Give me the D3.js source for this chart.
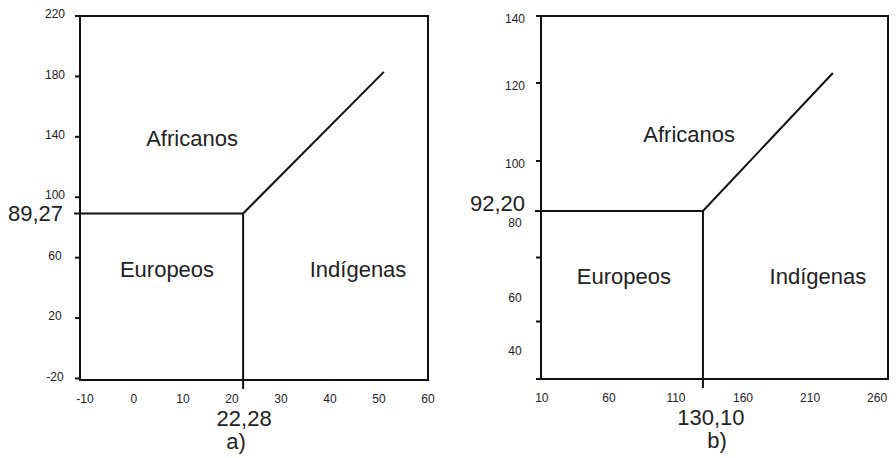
<!DOCTYPE html>
<html>
<head>
<meta charset="utf-8">
<script src="https://cdn.jsdelivr.net/npm/d3@7"></script>
<style>
  html, body { margin: 0; padding: 0; background: #fff; }
  svg { display: block; font-family: "Liberation Sans", Arial, sans-serif; }
</style>
</head>
<body>
<svg id="chart" width="896" height="458"></svg>
<script>
// ---------- data ----------
const regionNames = ["Africanos", "Europeos", "Indígenas"];

// panel a
const aXTicks = [-10, 0, 10, 20, 30, 40, 50, 60];
const aYTicks = [220, 180, 140, 100, 60, 20, -20];
const aXDomain = [-11, 60];
const aYDomain = [-21, 220];
const aJunction = [22.28, 89.27];
const aEnd = [51, 183];
const aXLabel = "22,28";
const aYLabel = "89,27";
const aCaption = "a)";

// panel b (original figure uses an uneven vertical axis)
const bXTicks = [10, 60, 110, 160, 210, 260];
const bYTickLabels = [140, 120, 100, 80, 60, 40];
const bYTickMarks = [140, 120, 100, 70, 50, 30];
const bXDomain = [9.35, 268.1];
const bYKnots = [30, 40, 60, 80, 92.2, 100, 120, 140];
const bJunction = [130.10, 92.20];
const bEnd = [227, 123];
const bXLabel = "130,10";
const bYLabel = "92,20";
const bCaption = "b)";

// ---------- drawing ----------
const svg = d3.select("#chart");
const ink = "#111";
const txt = "#222";

function panel(cfg) {
  const g = svg.append("g");
  const x = cfg.x, y = cfg.y;
  const [bx0, bx1] = x.range();
  const by1 = y(cfg.yMin), by0 = y(cfg.yMax);
  const W = bx1 - bx0, H = by1 - by0;

  // tick marks (left)
  g.selectAll(".tm").data(cfg.yTickMarks).join("line")
    .attr("x1", bx0 - 5).attr("x2", bx0)
    .attr("y1", d => y(d)).attr("y2", d => y(d))
    .attr("stroke", ink).attr("stroke-width", 2);

  // y tick labels
  g.selectAll(".yl").data(cfg.yTickLabels).join("text")
    .attr("x", cfg.yLabelX).attr("y", d => y(d) + cfg.yLabelShift)
    .attr("dy", "0.35em").attr("text-anchor", "middle")
    .attr("font-size", 12).attr("fill", txt).text(d => d);

  // x tick labels
  g.selectAll(".xl").data(cfg.xTicks).join("text")
    .attr("x", d => x(d)).attr("y", by1 + 23)
    .attr("text-anchor", "middle")
    .attr("font-size", 12).attr("fill", txt).text(d => d);

  // frame
  g.append("rect")
    .attr("x", bx0).attr("y", by0).attr("width", W).attr("height", H)
    .attr("fill", "none").attr("stroke", ink).attr("stroke-width", 2);

  const jx = x(cfg.junction[0]), jy = y(cfg.junction[1]);
  // horizontal boundary (extends slightly left of axis)
  g.append("line").attr("x1", bx0 - 6).attr("x2", jx).attr("y1", jy).attr("y2", jy)
    .attr("stroke", ink).attr("stroke-width", 2);
  // vertical boundary (extends slightly below axis)
  g.append("line").attr("x1", jx).attr("x2", jx).attr("y1", jy).attr("y2", by1 + 9)
    .attr("stroke", ink).attr("stroke-width", 2);
  // diagonal boundary
  g.append("line").attr("x1", jx).attr("y1", jy)
    .attr("x2", x(cfg.end[0])).attr("y2", y(cfg.end[1]))
    .attr("stroke", ink).attr("stroke-width", 2);

  // region names
  cfg.regionPos.forEach((p, i) => {
    g.append("text")
      .attr("x", bx0 + p[0] * W).attr("y", by0 + p[1] * H)
      .attr("text-anchor", "middle").attr("font-size", 22).attr("fill", txt)
      .text(regionNames[i]);
  });

  // junction value labels
  g.append("text").attr("x", bx0 - cfg.yValGap).attr("y", jy + cfg.yValBase)
    .attr("text-anchor", "end").attr("font-size", 22).attr("fill", txt)
    .text(cfg.yLabel);
  g.append("text").attr("x", jx + cfg.xValShift).attr("y", by1 + 46)
    .attr("text-anchor", "middle").attr("font-size", 22).attr("fill", txt)
    .text(cfg.xLabel);
  g.append("text").attr("x", jx + cfg.capShift).attr("y", by1 + 69)
    .attr("text-anchor", "middle").attr("font-size", 22).attr("fill", txt)
    .text(cfg.caption);
}

panel({
  x: d3.scaleLinear().domain(aXDomain).range([80, 428]),
  y: d3.scaleLinear().domain(aYDomain).range([380, 16]),
  yMin: aYDomain[0], yMax: aYDomain[1],
  xTicks: aXTicks, yTickMarks: aYTicks, yTickLabels: aYTicks,
  junction: aJunction, end: aEnd,
  xLabel: aXLabel, yLabel: aYLabel, caption: aCaption,
  yLabelX: 55, yLabelShift: -2, yValGap: 17, yValBase: 8, xValShift: 1, capShift: -7,
  regionPos: [[0.322, 0.357], [0.25, 0.717], [0.799, 0.717]]
});

const bYRange = [379, 348, 295, 220, 211, 161, 83, 16];
panel({
  x: d3.scaleLinear().domain(bXDomain).range([541, 888]),
  y: d3.scaleLinear().domain(bYKnots).range(bYRange),
  yMin: bYKnots[0], yMax: bYKnots[bYKnots.length - 1],
  xTicks: bXTicks, yTickMarks: bYTickMarks, yTickLabels: bYTickLabels,
  junction: bJunction, end: bEnd,
  xLabel: bXLabel, yLabel: bYLabel, caption: bCaption,
  yLabelX: 515, yLabelShift: 3, yValGap: 16, yValBase: 0, xValShift: 8, capShift: 14,
  regionPos: [[0.427, 0.346], [0.239, 0.739], [0.798, 0.739]]
});
</script>
</body>
</html>
